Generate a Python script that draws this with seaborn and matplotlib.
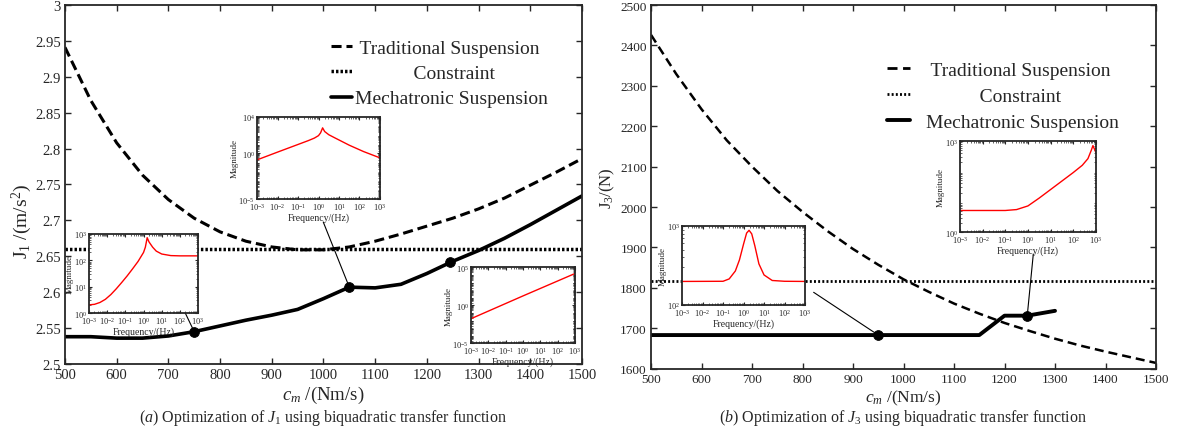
import numpy as np
import pandas as pd
import matplotlib
matplotlib.use("Agg")
import matplotlib.pyplot as plt
from matplotlib.lines import Line2D
from matplotlib.ticker import FormatStrFormatter, LogLocator, NullFormatter
import seaborn as sns

# ---- main curves ----
cm = [500, 550, 600, 650, 700, 750, 800, 850, 900, 950, 1000,
      1050, 1100, 1150, 1200, 1250, 1300, 1350, 1400, 1450, 1500]

j1_traditional = [2.941, 2.867, 2.808, 2.763, 2.729, 2.703, 2.684, 2.671, 2.663, 2.659, 2.659,
                  2.663, 2.671, 2.681, 2.692, 2.703, 2.716, 2.731, 2.749, 2.767, 2.786]
j1_mechatronic = [2.538, 2.538, 2.536, 2.536, 2.539, 2.545, 2.553, 2.561, 2.568, 2.576, 2.591,
                  2.607, 2.606, 2.611, 2.626, 2.643, 2.658, 2.675, 2.694, 2.714, 2.734]
j1_constraint = 2.66
j1_marker_cm = [750, 1050, 1245]
j1_marker_val = [2.545, 2.607, 2.642]

j3_traditional = [2426, 2329, 2242, 2165, 2100, 2040, 1988, 1940, 1896, 1857, 1821,
                  1790, 1761, 1736, 1713, 1693, 1674, 1657, 1642, 1628, 1614]
j3_mech_cm = [500, 950, 1150, 1200, 1245, 1300]
j3_mechatronic = [1683, 1683, 1683, 1731, 1731, 1743]
j3_constraint = 1818
j3_marker_cm = [950, 1245]
j3_marker_val = [1683, 1731]

# ---- inset frequency responses (log10 frequency, log10 magnitude) ----
in1_logf = [-3, -2.7, -2.4, -2.1, -1.8, -1.5, -1.2, -0.9, -0.6, -0.3, 0, 0.1, 0.2, 0.3, 0.5, 0.7, 1.0, 1.5, 2, 3]
in1_logm = [0.31, 0.33, 0.40, 0.52, 0.70, 0.92, 1.16, 1.41, 1.68, 1.96, 2.30, 2.50, 2.86, 2.70, 2.50, 2.35, 2.24, 2.18, 2.17, 2.17]

in2_logf = [-3, -2, -1, -0.5, -0.2, 0, 0.1, 0.2, 0.3, 0.5, 0.8, 1.5, 2.2, 3]
in2_logm = [-0.71, 0.14, 0.98, 1.40, 1.68, 1.95, 2.25, 2.80, 2.40, 2.05, 1.70, 0.90, 0.20, -0.49]

in3_logf = [-3, 0, 3]
in3_logm = [-1.8, 1.2, 4.15]

in4_logf = [-3, -1, -0.7, -0.4, -0.2, 0, 0.15, 0.27, 0.4, 0.55, 0.75, 1.0, 1.4, 2, 3]
in4_logm = [2.298, 2.30, 2.33, 2.43, 2.57, 2.77, 2.91, 2.945, 2.90, 2.75, 2.52, 2.38, 2.31, 2.30, 2.298]

in5_logf = [-3, -1, -0.5, 0, 0.5, 1, 1.5, 2, 2.4, 2.65, 2.8, 2.87, 3]
in5_logm = [0.71, 0.71, 0.74, 0.86, 1.12, 1.40, 1.68, 1.96, 2.20, 2.42, 2.70, 2.85, 2.62]

sns.set_theme(style="ticks")
plt.rcParams["font.family"] = ["Liberation Serif", "DejaVu Serif"]
plt.rcParams["mathtext.fontset"] = "custom"
plt.rcParams["mathtext.rm"] = "Liberation Serif"
plt.rcParams["mathtext.it"] = "Liberation Serif:italic"
plt.rcParams["mathtext.bf"] = "Liberation Serif:bold"
plt.rcParams["axes.linewidth"] = 1.3

fig = plt.figure(figsize=(11.79, 4.39), dpi=100)
ax1 = fig.add_axes([0.0551, 0.1686, 0.4385, 0.8178])
ax2 = fig.add_axes([0.5522, 0.1581, 0.4283, 0.8282])

dash1 = (0, (3.3, 1.6))
dot1 = (0, (0.7, 0.6))

# ---- panel (a) ----
df1 = pd.DataFrame({"cm": cm, "trad": j1_traditional, "mech": j1_mechatronic})
sns.lineplot(data=df1, x="cm", y="trad", ax=ax1, color="black", lw=2.2, linestyle=dash1)
ax1.axhline(j1_constraint, color="black", lw=2.5, linestyle=dot1)
sns.lineplot(data=df1, x="cm", y="mech", ax=ax1, color="black", lw=2.6)
sns.scatterplot(x=j1_marker_cm, y=j1_marker_val, ax=ax1, color="black", s=50, zorder=5, edgecolor="black")

ax1.set_xlim(500, 1500)
ax1.set_ylim(2.5, 3.0)
ax1.set_xticks(np.arange(500, 1501, 100))
ax1.set_yticks(np.arange(2.5, 3.001, 0.05))
ax1.yaxis.set_major_formatter(FormatStrFormatter("%g"))
ax1.tick_params(direction="in", length=4, width=1, top=True, right=True, labelsize=10.5, pad=3)
ax1.set_xlabel(r"$c_m$ /(Nm/s)", fontsize=13.5, labelpad=2)
ax1.set_ylabel(r"J$_1$ /(m/s$^2$)", fontsize=14)
ax1.yaxis.set_label_coords(-0.06, 0.40)

h1 = [Line2D([], [], color="black", lw=2.2, linestyle=dash1),
      Line2D([], [], color="black", lw=2.5, linestyle=dot1),
      Line2D([], [], color="black", lw=2.6)]
ax1.legend(h1, [" Traditional Suspension", "            Constraint", "Mechatronic Suspension"],
           loc="upper left", bbox_to_anchor=(0.514, 0.905), frameon=False, fontsize=14,
           handlelength=1.1, handletextpad=0.15, labelspacing=0.4, borderpad=0, borderaxespad=0)

ax1.annotate("", xy=(j1_marker_cm[0], j1_marker_val[0]), xytext=(0.232, 0.144),
             textcoords="axes fraction", arrowprops=dict(arrowstyle="-", lw=0.8, color="black",
                                                        shrinkA=0, shrinkB=0))
ax1.annotate("", xy=(j1_marker_cm[1], j1_marker_val[1]), xytext=(0.4996, 0.3955),
             textcoords="axes fraction", arrowprops=dict(arrowstyle="-", lw=0.8, color="black",
                                                        shrinkA=0, shrinkB=0))

# ---- panel (b) ----
dash2 = (0, (3.6, 2.0))
dot2 = (0, (0.7, 0.8))
df2 = pd.DataFrame({"cm": cm, "trad": j3_traditional})
df3 = pd.DataFrame({"cm": j3_mech_cm, "mech": j3_mechatronic})
sns.lineplot(data=df2, x="cm", y="trad", ax=ax2, color="black", lw=1.8, linestyle=dash2)
ax2.axhline(j3_constraint, color="black", lw=2.0, linestyle=dot2)
sns.lineplot(data=df3, x="cm", y="mech", ax=ax2, color="black", lw=2.8)
sns.scatterplot(x=j3_marker_cm, y=j3_marker_val, ax=ax2, color="black", s=50, zorder=5, edgecolor="black")

ax2.set_xlim(500, 1500)
ax2.set_ylim(1600, 2500)
ax2.set_xticks(np.arange(500, 1501, 100))
ax2.set_yticks(np.arange(1600, 2501, 100))
ax2.tick_params(direction="in", length=4, width=1, top=True, right=True, labelsize=9.5, pad=3)
ax2.set_xlabel(r"$c_m$ /(Nm/s)", fontsize=12.5, labelpad=2)
ax2.set_ylabel(r"J$_3$/(N)", fontsize=12, labelpad=2)

h2 = [Line2D([], [], color="black", lw=2.0, linestyle=dash2),
      Line2D([], [], color="black", lw=2.0, linestyle=dot2),
      Line2D([], [], color="black", lw=2.8)]
ax2.legend(h2, [" Traditional Suspension", "           Constraint", "Mechatronic Suspension"],
           loc="upper left", bbox_to_anchor=(0.467, 0.845), frameon=False, fontsize=14,
           handlelength=1.2, handletextpad=0.8, labelspacing=0.42, borderpad=0, borderaxespad=0)

ax2.annotate("", xy=(j3_marker_cm[0], j3_marker_val[0]), xytext=(0.322, 0.2098),
             textcoords="axes fraction", arrowprops=dict(arrowstyle="-", lw=0.8, color="black",
                                                        shrinkA=0, shrinkB=0))
ax2.annotate("", xy=(j3_marker_cm[1], j3_marker_val[1]), xytext=(0.757, 0.315),
             textcoords="axes fraction", arrowprops=dict(arrowstyle="-", lw=0.8, color="black",
                                                        shrinkA=0, shrinkB=0))


def add_inset(rect, logf, logm, ylim, yticks):
    ax = fig.add_axes(rect)
    df = pd.DataFrame({"f": 10.0 ** np.array(logf), "mag": 10.0 ** np.array(logm)})
    sns.lineplot(data=df, x="f", y="mag", ax=ax, color="red", lw=1.0)
    ax.set_xscale("log")
    ax.set_yscale("log")
    ax.set_xlim(1e-3, 1e3)
    ax.set_ylim(*ylim)
    ax.set_xticks([10.0 ** k for k in range(-3, 4)])
    ax.set_yticks(yticks)
    ax.xaxis.set_minor_locator(LogLocator(base=10, subs=np.arange(2, 10), numticks=20))
    ax.yaxis.set_minor_locator(LogLocator(base=10, subs=np.arange(2, 10), numticks=20))
    ax.xaxis.set_minor_formatter(NullFormatter())
    ax.yaxis.set_minor_formatter(NullFormatter())
    ax.tick_params(which="major", direction="in", length=2.5, width=0.8, top=True, right=True,
                   labelsize=6, pad=1.5)
    ax.tick_params(which="minor", direction="in", length=1.2, width=0.5, top=True, right=True)
    for s in ax.spines.values():
        s.set_linewidth(1.3)
    ax.set_xlabel("Frequency/(Hz)", fontsize=7, labelpad=0)
    ax.set_ylabel("Magnitude", fontsize=6.5, labelpad=0)
    return ax


add_inset([0.0755, 0.2847, 0.0925, 0.18], in1_logf, in1_logm, (1e0, 1e3), [1e0, 1e1, 1e2, 1e3])
add_inset([0.218, 0.5444, 0.1043, 0.187], in2_logf, in2_logm, (1e-5, 1e4), [1e-5, 1e0, 1e4])
add_inset([0.3995, 0.2164, 0.0882, 0.173], in3_logf, in3_logm, (1e-5, 1e5), [1e-5, 1e0, 1e5])
add_inset([0.5785, 0.303, 0.1043, 0.18], in4_logf, in4_logm, (1e2, 1e3), [1e2, 1e3])
add_inset([0.8142, 0.4692, 0.1153, 0.2073], in5_logf, in5_logm, (1e0, 1e3), [1e0, 1e3])

fig.text(0.274, 0.048, r"($a$) Optimization of $J_1$ using biquadratic transfer function",
         ha="center", va="center", fontsize=11.5)
fig.text(0.766, 0.048, r"($b$) Optimization of $J_3$ using biquadratic transfer function",
         ha="center", va="center", fontsize=11.5)

fig.savefig("out.png", dpi=100)
